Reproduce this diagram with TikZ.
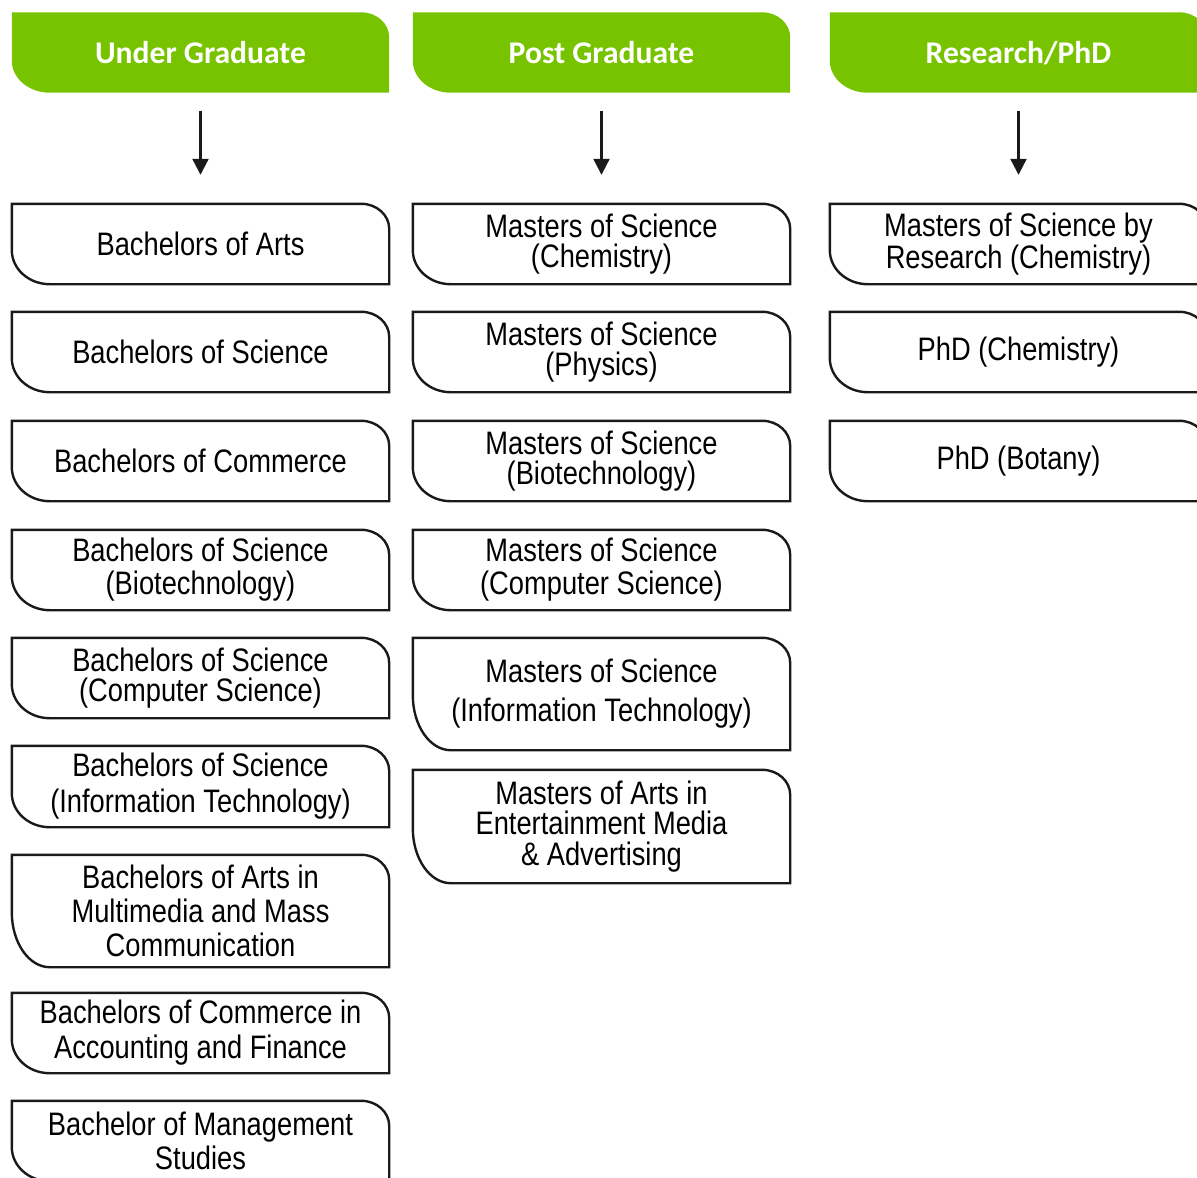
\documentclass[tikz,border=0pt]{standalone}
\usepackage{fontspec}
\usepackage{tikz}
\usetikzlibrary{positioning,arrows.meta,backgrounds}
\newfontfamily\boxfont[FakeStretch=0.84]{Liberation Sans}
\newfontfamily\headfont{Carlito}
\definecolor{headgreen}{RGB}{120,195,0}
\definecolor{edgegray}{RGB}{26,26,26}
\tikzset{
	course/.style={minimum width=377pt, minimum height=80pt, inner sep=0pt, align=center,
		font=\boxfont\fontsize{32.5}{33}\selectfont},
	tight/.style={font=\boxfont\fontsize{32.5}{29.5}\selectfont},
	level/.style={minimum width=377pt, minimum height=80pt, inner sep=0pt, text=white,
		text height=21pt, text depth=0pt, font=\headfont\bfseries\fontsize{31.6}{31.6}\selectfont},
	tabfill/.style={fill=headgreen},
	taboutline/.style={draw=edgegray, line width=2.4pt, fill=white},
	flowarrow/.style={-{Triangle[width=16pt,length=16pt]}, line width=2.2pt, draw=edgegray,
		shorten <=18pt, shorten >=29pt}
}
% tab shape: #1 = y radius of the lower left corner, #2 = node, #3 = style
\newcommand{\tabshape}[3][34pt]{%
	\path[#3] (#2.north west) -- ([xshift=-28pt]#2.north east)
		arc[start angle=90, end angle=0, x radius=28pt, y radius=25pt]
		-- (#2.south east) -- ([xshift=38pt]#2.south west)
		arc[start angle=270, end angle=180, x radius=38pt, y radius=#1] -- cycle;}
\begin{document}
\begin{tikzpicture}[x=1pt, y=1pt]
	\useasboundingbox (0,0) rectangle (1197,-1178);
	\clip (0,0) rectangle (1197,-1178);
	
	\node[level] (ug) at (200.5, -52.5) {Under Graduate};
	\node[level] (pg) at (601.5, -52.5) {Post Graduate};
	\node[level] (rp) at (1018.5, -52.5) {Research/PhD};
	
	\node[course] (ba) at (200.5, -244) {Bachelors of Arts};
	\node[course] (bs) at (200.5, -352) {Bachelors of Science};
	\node[course] (bc) at (200.5, -461) {Bachelors of Commerce};
	\node[course] (bsb) at (200.5, -570) {Bachelors of Science\\(Biotechnology)};
	\node[course, tight] (bsc) at (200.5, -678) {Bachelors of Science\\(Computer Science)};
	\node[course, minimum height=81pt, font=\boxfont\fontsize{32.5}{36}\selectfont] (bsi) at (200.5, -786.5) {Bachelors of Science\\(Information Technology)};
	\node[course, minimum height=112pt, font=\boxfont\fontsize{32.5}{34}\selectfont] (bam) at (200.5, -911) {Bachelors of Arts in\\Multimedia and Mass\\Communication};
	\node[course, font=\boxfont\fontsize{32.5}{35}\selectfont] (bca) at (200.5, -1033) {Bachelors of Commerce in\\Accounting and Finance};
	\node[course, font=\boxfont\fontsize{32.5}{34}\selectfont] (bms) at (200.5, -1141) {Bachelor of Management\\Studies};
	
	\node[course, tight] (msc) at (601.5, -244) {Masters of Science\\(Chemistry)};
	\node[course, tight] (msp) at (601.5, -352) {Masters of Science\\(Physics)};
	\node[course, tight] (msb) at (601.5, -461) {Masters of Science\\(Biotechnology)};
	\node[course] (mscs) at (601.5, -570) {Masters of Science\\(Computer Science)};
	\node[course, minimum height=112pt, font=\boxfont\fontsize{32.5}{39}\selectfont] (msit) at (601.5, -694) {Masters of Science\\(Information Technology)};
	\node[course, tight, minimum height=113pt, font=\boxfont\fontsize{32.5}{30.5}\selectfont] (mam) at (601.5, -826.5) {Masters of Arts in\\Entertainment Media\\\& Advertising};
	
	\node[course, tight] (mscr) at (1018.5, -244) {Masters of Science by\\Research (Chemistry)};
	\node[course] (phc) at (1018.5, -352) {PhD (Chemistry)};
	\node[course] (phb) at (1018.5, -461) {PhD (Botany)};
	
	\begin{pgfonlayer}{background}
		\foreach \n in {ug, pg, rp} \tabshape[32pt]{\n}{tabfill};
		\foreach \n in {ba, bs, bc, bsb, bsc, bsi, bca, bms, msc, msp, msb, mscs, mscr, phc, phb} \tabshape{\n}{taboutline};
		\foreach \n in {bam, msit, mam} \tabshape[55pt]{\n}{taboutline};
	\end{pgfonlayer}
	
	\foreach \h/\b in {ug/ba, pg/msc, rp/mscr} \draw[flowarrow] (\h) -- (\b);
\end{tikzpicture}
\end{document}
